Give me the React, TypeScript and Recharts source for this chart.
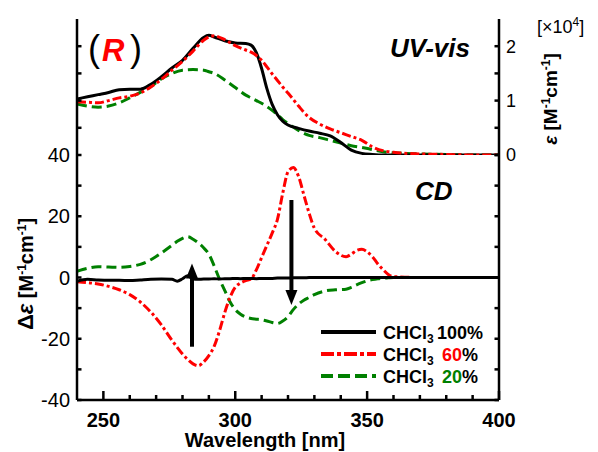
import React from 'react';
import { LineChart, Line, XAxis, YAxis, ReferenceLine, Legend } from 'recharts';

const FONT = "'Liberation Sans', Arial, Helvetica, sans-serif";

// ---------- UV-vis (x10^4 M-1 cm-1) ----------
const uvWavelength = [240, 244, 248, 252, 256, 260, 264, 268, 272, 276, 280, 284, 288, 290, 292, 296, 300, 304, 306, 308, 310, 312, 314, 316, 318, 320, 324, 328, 332, 336, 340, 344, 348, 352, 356, 360, 370, 380, 390, 400];
const uv100 = [1.03, 1.07, 1.11, 1.15, 1.2, 1.21, 1.21, 1.3, 1.44, 1.6, 1.74, 1.96, 2.16, 2.2, 2.17, 2.1, 2.06, 2.05, 2.02, 1.88, 1.59, 1.22, 0.93, 0.74, 0.62, 0.55, 0.49, 0.44, 0.4, 0.35, 0.23, 0.09, 0.03, 0.01, 0, 0, 0, 0, 0, 0];
const uv60 = [0.98, 0.97, 0.96, 1.0, 1.05, 1.08, 1.14, 1.25, 1.39, 1.56, 1.72, 1.91, 2.11, 2.17, 2.19, 2.12, 2.01, 1.93, 1.89, 1.83, 1.74, 1.62, 1.49, 1.37, 1.25, 1.14, 0.9, 0.69, 0.57, 0.48, 0.41, 0.34, 0.27, 0.15, 0.08, 0.05, 0.02, 0.01, 0, 0];
const uv20 = [0.94, 0.9, 0.88, 0.9, 0.96, 1.05, 1.15, 1.26, 1.4, 1.5, 1.56, 1.57, 1.56, 1.53, 1.5, 1.38, 1.24, 1.1, 1.05, 1.0, 0.95, 0.89, 0.82, 0.74, 0.65, 0.58, 0.45, 0.36, 0.32, 0.27, 0.22, 0.17, 0.14, 0.1, 0.06, 0.04, 0.02, 0.01, 0, 0];

// ---------- CD (M-1 cm-1) ----------
const cdWavelength = [240, 244, 248, 252, 256, 260, 264, 268, 272, 276, 278, 280, 282, 284, 286, 288, 290, 292, 294, 296, 298, 300, 302, 304, 306, 308, 310, 312, 314, 316, 318, 320, 322, 324, 326, 328, 330, 334, 338, 342, 344, 346, 348, 350, 352, 354, 356, 358, 360, 370, 380, 390, 400];
const cd100 = [-1.2, -0.6, -0.8, -0.9, -0.9, -1.0, -0.8, -0.6, -0.5, -0.6, -1.2, -0.4, 0.6, -0.5, -0.6, -0.5, -0.5, -0.4, -0.5, -0.4, -0.4, -0.3, -0.4, -0.3, -0.3, -0.4, -0.3, -0.3, -0.3, -0.2, -0.2, -0.2, -0.1, -0.1, -0.1, 0, 0, 0, 0, 0, 0, 0, 0, 0, 0, 0, 0, 0, 0, 0, 0, 0, 0];
const cd60 = [-1.4, -1.7, -2.1, -2.9, -4.0, -5.6, -8.0, -11.3, -15.5, -20.5, -22.8, -25.0, -26.8, -28.2, -28.8, -27.6, -25.5, -22.5, -17.5, -11.5, -6.5, -3.2, -1.8, -1.0, -0.5, 2.5, 6.5, 10.5, 14.5, 19.0, 27.5, 34.5, 35.9, 33.0, 27.0, 21.0, 16.1, 12.5, 8.5, 6.8, 7.6, 8.8, 9.2, 8.4, 6.8, 4.5, 2.6, 1.0, 0.3, 0, 0, 0, 0];
const cd20 = [2.0, 3.0, 3.5, 3.4, 3.3, 3.6, 4.3, 5.8, 8.0, 10.5, 11.8, 12.8, 13.3, 12.5, 11.3, 9.7, 7.6, 3.8, -0.5, -4.2, -7.9, -10.5, -12.0, -12.9, -13.4, -13.6, -13.8, -14.2, -14.7, -15.0, -14.2, -12.8, -10.5, -8.7, -7.4, -6.5, -5.6, -4.4, -4.0, -3.8, -3.2, -2.4, -1.7, -1.1, -0.7, -0.4, -0.2, -0.1, 0, 0, 0, 0, 0];

// ---------- ticks ----------
const xTicks = [250, 260, 270, 280, 290, 300, 310, 320, 330, 340, 350, 360, 370, 380, 390, 400];
const xLabelTicks = [250, 300, 350, 400];
const uvTicks = [0, 0.5, 1, 1.5, 2];
const uvLabelTicks = [0, 1, 2];
const cdTicks = [-40, -30, -20, -10, 0, 10, 20, 30, 40];
const cdLabelTicks = [-40, -20, 0, 20, 40];

// ---------- arrows (wavelength, from, to) ----------
const arrowUp = { x: 283.6, from: -22.6, to: 4.6 };
const arrowDown = { x: 321.3, from: 25.3, to: -9.0 };

const seriesNames = ['CHCl3 100%', 'CHCl3 60%', 'CHCl3 20%'];
const colors = ['#000000', '#ff0000', '#008000'];

const uvData = uvWavelength.map((w, i) => ({ w, s100: uv100[i], s60: uv60[i], s20: uv20[i] }));
const cdData = cdWavelength.map((w, i) => ({ w, s100: cd100[i], s60: cd60[i], s20: cd20[i] }));

const AX = { stroke: '#000', strokeWidth: 2.5 };

const xTick = (dir: 'up' | 'down', labels: boolean) => (props: any) => {
  const { x, y, payload } = props;
  const v = payload.value;
  const major = xLabelTicks.includes(v);
  const len = major ? 9 : 5;
  return (
    <g>
      <line x1={x} y1={y} x2={x} y2={dir === 'up' ? y - len : y + len} stroke="#000" strokeWidth={2.5} />
      {labels && major && (
        <text x={x} y={y + 27} textAnchor="middle" fontFamily={FONT} fontWeight="bold" fontSize={20} fill="#000">
          {v}
        </text>
      )}
    </g>
  );
};

const yTick = (side: 'left' | 'right', labelSet: number[] | null, fontSize: number) => (props: any) => {
  const { x, y, payload } = props;
  const v = payload.value;
  const len = 4.5;
  return (
    <g>
      <line x1={x} y1={y} x2={side === 'left' ? x + len : x - len} y2={y} stroke="#000" strokeWidth={2.5} />
      {labelSet && labelSet.includes(v) && (
        <text
          x={side === 'left' ? x - 7 : x + 7}
          y={y}
          dy="0.36em"
          textAnchor={side === 'left' ? 'end' : 'start'}
          fontFamily={FONT}
          fontSize={fontSize}
          fill="#000"
        >
          {v}
        </text>
      )}
    </g>
  );
};

const ArrowShape = (props: any) => {
  const { x1, y1, x2, y2 } = props;
  const dir = y2 < y1 ? -1 : 1;
  const head = 15;
  const hw = 6;
  return (
    <g>
      <line x1={x1} y1={y1} x2={x2} y2={y2 - dir * head + dir} stroke="#000" strokeWidth={4} />
      <polygon points={`${x2},${y2} ${x2 - hw},${y2 - dir * head} ${x2 + hw},${y2 - dir * head}`} fill="#000" />
    </g>
  );
};

const LegendContent = () => {
  const rows = [
    { y: 10, dash: undefined, color: colors[0], pct: '100', pctColor: '#000', pctX: 119 },
    { y: 32, dash: '13 3 4 3', color: colors[1], pct: '60', pctColor: colors[1], pctX: 124 },
    { y: 54, dash: '12 5', color: colors[2], pct: '20', pctColor: colors[2], pctX: 124 },
  ];
  return (
    <svg width={190} height={66} style={{ display: 'block', overflow: 'visible' }}>
      {rows.map((r, i) => (
        <g key={i}>
          <line x1={3} y1={r.y} x2={58} y2={r.y} stroke={r.color} strokeWidth={4} strokeDasharray={r.dash} />
          <text y={r.y + 7} fontFamily={FONT} fontWeight="bold" fontSize={18} fill="#000">
            <tspan x={65}>CHCl</tspan>
            <tspan fontSize={12} dy={4}>3</tspan>
            <tspan x={r.pctX} dy={-4} fill={r.pctColor}>{r.pct}</tspan>
            <tspan>%</tspan>
          </text>
        </g>
      ))}
    </svg>
  );
};

export default function App() {
  return (
    <div style={{ position: 'absolute', left: 0, top: 0, width: 598, height: 452, background: '#fff', overflow: 'hidden' }}>
      {/* UV-vis panel */}
      <div style={{ position: 'absolute', left: 0, top: 0 }}>
        <LineChart width={598} height={452} data={uvData} margin={{ top: 19, right: 0, bottom: 297, left: 0 }}>
          <XAxis xAxisId="b" dataKey="w" type="number" domain={[240, 400]} allowDataOverflow ticks={xTicks} interval={0}
            height={0} tickSize={0} tickMargin={0} tickLine={false} axisLine={AX} tick={xTick('up', false)} />
          <XAxis xAxisId="t" orientation="top" dataKey="w" type="number" domain={[240, 400]} allowDataOverflow
            height={0} tick={false} tickLine={false} axisLine={AX} />
          <YAxis yAxisId="l" orientation="left" width={77} domain={[0, 2.5]} allowDataOverflow ticks={[0.5, 1, 1.5, 2]} interval={0}
            tickSize={0} tickMargin={0} tickLine={false} axisLine={AX} tick={yTick('left', null, 18)} />
          <YAxis yAxisId="r" orientation="right" width={99} domain={[0, 2.5]} allowDataOverflow ticks={uvTicks} interval={0}
            tickSize={0} tickMargin={0} tickLine={false} axisLine={AX} tick={yTick('right', uvLabelTicks, 18)} />
          <Line xAxisId="b" yAxisId="r" dataKey="s20" name={seriesNames[2]} type="monotone" stroke={colors[2]} strokeWidth={3}
            strokeDasharray="10 5" dot={false} isAnimationActive={false} />
          <Line xAxisId="b" yAxisId="r" dataKey="s100" name={seriesNames[0]} type="monotone" stroke={colors[0]} strokeWidth={3}
            dot={false} isAnimationActive={false} />
          <Line xAxisId="b" yAxisId="r" dataKey="s60" name={seriesNames[1]} type="monotone" stroke={colors[1]} strokeWidth={3}
            strokeDasharray="9 3 3 3" dot={false} isAnimationActive={false} />
        </LineChart>
      </div>

      {/* CD panel */}
      <div style={{ position: 'absolute', left: 0, top: 0 }}>
        <LineChart width={598} height={452} data={cdData} margin={{ top: 155, right: 0, bottom: 0, left: 0 }}>
          <XAxis xAxisId="b" dataKey="w" type="number" domain={[240, 400]} allowDataOverflow ticks={xTicks} interval={0}
            height={52} tickSize={0} tickMargin={0} tickLine={false} axisLine={AX} tick={xTick('up', true)} />
          <XAxis xAxisId="t" orientation="top" dataKey="w" type="number" domain={[240, 400]} allowDataOverflow ticks={xTicks} interval={0}
            height={0} tickSize={0} tickMargin={0} tickLine={false} axisLine={AX} tick={xTick('down', false)} />
          <YAxis yAxisId="l" orientation="left" width={77} domain={[-40, 40]} allowDataOverflow ticks={cdTicks} interval={0}
            tickSize={0} tickMargin={0} tickLine={false} axisLine={AX} tick={yTick('left', cdLabelTicks, 20)} />
          <YAxis yAxisId="r" orientation="right" width={99} domain={[-40, 40]} allowDataOverflow ticks={cdTicks} interval={0}
            tickSize={0} tickMargin={0} tickLine={false} axisLine={AX} tick={yTick('right', null, 18)} />
          <Line xAxisId="b" yAxisId="l" dataKey="s20" name={seriesNames[2]} type="monotone" stroke={colors[2]} strokeWidth={3}
            strokeDasharray="10 5" dot={false} isAnimationActive={false} />
          <Line xAxisId="b" yAxisId="l" dataKey="s60" name={seriesNames[1]} type="monotone" stroke={colors[1]} strokeWidth={3}
            strokeDasharray="9 3 3 3" dot={false} isAnimationActive={false} />
          <Line xAxisId="b" yAxisId="l" dataKey="s100" name={seriesNames[0]} type="monotone" stroke={colors[0]} strokeWidth={3}
            dot={false} isAnimationActive={false} />
          <ReferenceLine xAxisId="b" yAxisId="l" segment={[{ x: arrowUp.x, y: arrowUp.from }, { x: arrowUp.x, y: arrowUp.to }]}
            shape={ArrowShape} />
          <ReferenceLine xAxisId="b" yAxisId="l" segment={[{ x: arrowDown.x, y: arrowDown.from }, { x: arrowDown.x, y: arrowDown.to }]}
            shape={ArrowShape} />
          <Legend layout="vertical" align="center" verticalAlign="middle" content={LegendContent}
            wrapperStyle={{ left: 318, top: 322, width: 190, height: 66, bottom: 'auto', right: 'auto' }} />
        </LineChart>
      </div>

      {/* text annotations */}
      <svg width={598} height={452} style={{ position: 'absolute', left: 0, top: 0, pointerEvents: 'none' }} fontFamily={FONT}>
        <text y={61} fill="#000">
          <tspan x={88} fontSize={36}>(</tspan>
          <tspan x={102} fontSize={31} fontWeight="bold" fontStyle="italic" fill="#ff0000">R</tspan>
          <tspan x={130} fontSize={36}>)</tspan>
        </text>
        <text x={390} y={57} fontSize={26} fontWeight="bold" fontStyle="italic" fill="#000">UV-vis</text>
        <text x={415} y={200} fontSize={26} fontWeight="bold" fontStyle="italic" fill="#000">CD</text>
        <text x={537} y={33} fontSize={18} fill="#000">
          [×10<tspan fontSize={12} dy={-7}>4</tspan><tspan dy={7}>]</tspan>
        </text>
        <text transform="translate(557,99) rotate(-90)" textAnchor="middle" fontSize={19} fontWeight="bold" fill="#000">
          <tspan fontStyle="italic">ε</tspan> [M<tspan fontSize={12} dy={-7}>-1</tspan><tspan dy={7}>cm</tspan><tspan fontSize={12} dy={-7}>-1</tspan><tspan dy={7}>]</tspan>
        </text>
        <text transform="translate(33,274) rotate(-90)" textAnchor="middle" fontSize={20} fontWeight="bold" fill="#000">
          <tspan fontSize={22}>Δ</tspan><tspan fontSize={22} fontStyle="italic">ε</tspan>  [M<tspan fontSize={12} dy={-7}>-1</tspan><tspan dy={7}>cm</tspan><tspan fontSize={12} dy={-7}>-1</tspan><tspan dy={7}>]</tspan>
        </text>
        <text x={265} y={447} textAnchor="middle" fontSize={20} fontWeight="bold" fill="#000">Wavelength [nm]</text>
      </svg>
    </div>
  );
}
